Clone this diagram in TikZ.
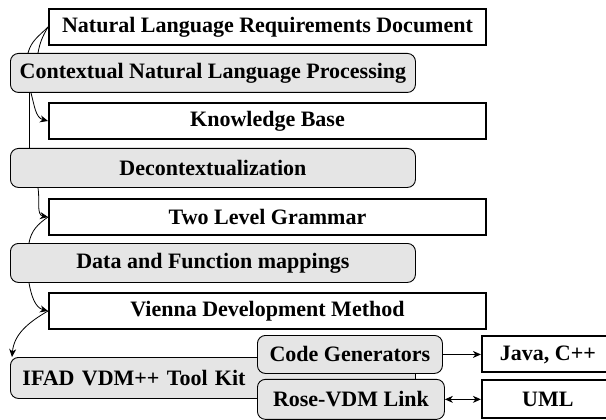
\documentclass[tikz,border=0pt]{standalone}
\usepackage{fontspec}
\setmainfont{Liberation Serif}
\usetikzlibrary{arrows.meta,positioning,calc}

\tikzset{
	docbox/.style={draw, line width=2pt, fill=white, inner sep=0pt, minimum height=36pt, font=\fontsize{22}{24}\selectfont\bfseries},
	procbox/.style={draw, line width=0.9pt, fill=black!10, rounded corners=8pt, inner sep=0pt, minimum height=39pt, font=\fontsize{22}{24}\selectfont\bfseries},
	flow/.style={line width=0.8pt, >={Stealth[length=8pt,width=7pt,inset=2.5pt]}}
}

\begin{document}
\begin{tikzpicture}[x=1pt,y=-1pt]
			\useasboundingbox (0,0) rectangle (606,420);
			\node[docbox, minimum width=437pt, anchor=north west] (nlrd) at (48,8) {Natural Language Requirements Document};
			\node[procbox, minimum width=405pt, anchor=north west] (cnlp) at (10,53) {Contextual Natural Language Processing};
			\node[docbox, minimum width=437pt, anchor=north west] (kb) at (48,102) {Knowledge Base};
			\node[procbox, minimum width=405pt, anchor=north west] (decon) at (10,148) {Decontextualization};
			\node[docbox, minimum width=437pt, anchor=north west] (tlg) at (48,198) {Two Level Grammar};
			\node[procbox, minimum width=405pt, anchor=north west] (dfm) at (10,243) {Data and Function mappings};
			\node[docbox, minimum width=437pt, anchor=north west] (vdm) at (48,292) {Vienna Development Method};
			\node[procbox, minimum height=41pt, text width=381pt, inner xsep=12pt, align=left, anchor=north west] (ifad) at (10,357) {IFAD VDM++ Tool Kit};
			\node[procbox, minimum width=185pt, minimum height=38pt, anchor=north west] (codegen) at (257,335) {Code Generators};
			\node[procbox, minimum width=187pt, minimum height=40pt, below=5pt of codegen.south west, anchor=north west] (rose) {Rose-VDM Link};
			\node[docbox, minimum width=132pt, right=38pt of codegen] (java) {Java, C++};
			\node[docbox, minimum width=132pt, minimum height=38pt, right=36pt of rose] (uml) {UML};

			\draw[flow] (nlrd.west) to[out=225,in=75] ($(cnlp.north west)+(18,0)$);
			\draw[flow] (nlrd.west) to[out=240,in=80] ($(cnlp.north west)+(28,0)$);
			\draw[flow,->] ($(cnlp.south west)+(21,0)$) to[out=-75,in=165] (kb.west);
			\draw[flow] ($(cnlp.south west)+(19,0)$) -- ($(decon.north west)+(19,0)$);
			\draw[flow,->] ($(decon.south west)+(28,0)$) to[out=-80,in=170] (tlg.west);
			\draw[flow] (tlg.west) to[out=215,in=80] ($(dfm.north west)+(19,0)$);
			\draw[flow,->] ($(dfm.south west)+(19,0)$) to[out=-80,in=165] (vdm.west);
			\draw[flow,->] (vdm.west) to[out=210,in=85] ($(ifad.north west)+(2,0)$);
			\draw[flow,->] (codegen) -- (java);
			\draw[flow,<->] (rose) -- (uml);
		\end{tikzpicture}
\end{document}
